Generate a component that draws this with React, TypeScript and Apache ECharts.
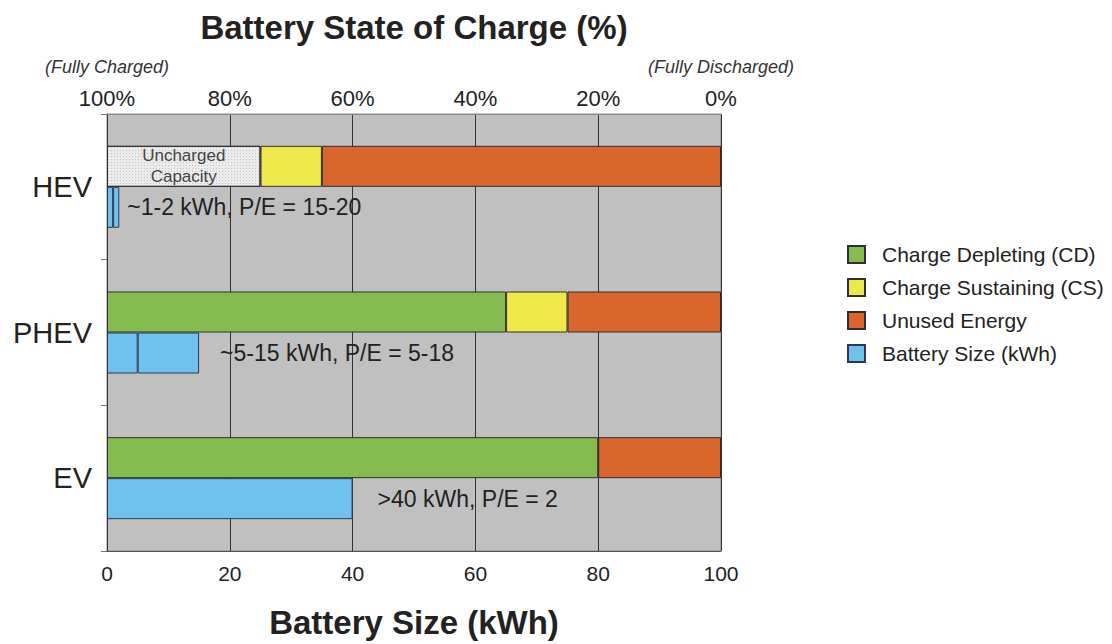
import React, { useEffect, useRef } from "react";
import * as echarts from "echarts";

const categories = ["HEV", "PHEV", "EV"];
// state-of-charge stack (% of width, read on the kWh axis)
const unchargedValues: (number | string)[] = [25, "-", "-"];
const cdValues: (number | string)[] = ["-", 65, 80];
const csValues: (number | string)[] = [10, 10, "-"];
const unusedValues: (number | string)[] = [65, 25, 20];
// battery size stack (kWh)
const sizeLowValues: (number | string)[] = [1, 5, 40];
const sizeRangeValues: (number | string)[] = [1, 10, "-"];
const sizeNotes = ["~1-2 kWh, P/E = 15-20", "~5-15 kWh, P/E = 5-18", ">40 kWh, P/E = 2"];
const noteDistance = [8, 21, 25];
const xTicks = [0, 20, 40, 60, 80, 100];

const FONT = "'Liberation Sans', Arial, Helvetica, sans-serif";
const BORDER = "#2f2f2f";

export default function App() {
  const ref = useRef<HTMLDivElement>(null);
  useEffect(() => {
    if (!ref.current) return;
    const chart = echarts.init(ref.current, undefined, { renderer: "svg" });
    const noteKind = (i: number) => (sizeRangeValues[i] === "-" ? "low" : "range");
    const sizeData = (vals: (number | string)[], kind: string) =>
      vals.map((v, i) =>
        noteKind(i) === kind && v !== "-"
          ? {
              value: v,
              label: {
                show: true,
                position: "right",
                distance: noteDistance[i],
                formatter: sizeNotes[i],
                color: "#222",
                fontSize: 23,
                fontFamily: FONT,
              },
            }
          : v
      );
    const barCommon = {
      type: "bar",
      barWidth: 41,
      barGap: "0%",
      xAxisIndex: 0,
      yAxisIndex: 0,
    };
    chart.setOption({
      animation: false,
      backgroundColor: "#ffffff",
      textStyle: { fontFamily: FONT },
      grid: {
        left: 107,
        top: 114,
        width: 614,
        height: 442,
        show: true,
        backgroundColor: "#c0c0c0",
        borderColor: "#8a8a8a",
        borderWidth: 1,
      },
      legend: {
        orient: "vertical",
        left: 842,
        top: 239,
        icon: "rect",
        itemWidth: 17,
        itemHeight: 17,
        itemGap: 12,
        data: [
          "Charge Depleting (CD)",
          "Charge Sustaining (CS)",
          "Unused Energy",
          "Battery Size (kWh)",
        ],
        textStyle: { fontSize: 21, color: "#222", fontFamily: FONT, padding: [0, 0, 0, 12] },
      },
      xAxis: [
        {
          type: "value",
          position: "bottom",
          min: 0,
          max: 100,
          interval: 20,
          name: "Battery Size (kWh)",
          nameLocation: "middle",
          nameGap: 55,
          nameTextStyle: { fontSize: 33, fontWeight: "bold", color: "#222", fontFamily: FONT },
          axisLine: { show: true, lineStyle: { color: "#555", width: 1 } },
          axisTick: { show: false },
          axisLabel: { fontSize: 21, color: "#222", margin: 12, fontFamily: FONT },
          splitLine: { show: true, lineStyle: { color: "#333", width: 1 } },
        },
        {
          type: "value",
          position: "top",
          min: 0,
          max: 100,
          interval: 20,
          name: "Battery State of Charge (%)",
          nameLocation: "middle",
          nameGap: 70,
          nameTextStyle: { fontSize: 33, fontWeight: "bold", color: "#222", fontFamily: FONT },
          axisLine: { show: true, lineStyle: { color: "#8a8a8a", width: 1 } },
          axisTick: { show: false },
          splitLine: { show: false },
          axisLabel: {
            margin: 4,
            color: "#222",
            fontSize: 22,
            fontFamily: FONT,
            formatter: (v: number) => {
              const pct = 100 - v + "%";
              if (v === xTicks[0]) return "{i|(Fully Charged)}\n{n|" + pct + "}";
              if (v === xTicks[xTicks.length - 1]) return "{i|(Fully Discharged)}\n{n|" + pct + "}";
              return "{n|" + pct + "}";
            },
            rich: {
              i: { fontSize: 18, fontStyle: "italic", color: "#333", lineHeight: 38, fontFamily: FONT },
              n: { fontSize: 22, color: "#222", lineHeight: 24, fontFamily: FONT },
            },
          },
        },
      ],
      yAxis: {
        type: "category",
        data: categories,
        inverse: true,
        axisLine: { show: true, lineStyle: { color: "#333", width: 1 } },
        axisTick: { show: true, length: 6, lineStyle: { color: "#777" } },
        axisLabel: { fontSize: 29, color: "#222", margin: 15, fontFamily: FONT },
        splitLine: { show: false },
      },
      series: [
        {
          ...barCommon,
          name: "Uncharged Capacity",
          stack: "soc",
          data: unchargedValues,
          itemStyle: {
            color: "#ebebeb",
            borderColor: BORDER,
            borderWidth: 1,
            decal: {
              symbol: "rect",
              symbolSize: 1,
              color: "rgba(150,150,150,0.45)",
              dashArrayX: [1, 2],
              dashArrayY: [1, 2],
            },
          },
          label: {
            show: true,
            position: "inside",
            formatter: "Uncharged\nCapacity",
            fontSize: 17,
            lineHeight: 21,
            color: "#444",
            fontFamily: FONT,
          },
        },
        {
          ...barCommon,
          name: "Charge Depleting (CD)",
          stack: "soc",
          data: cdValues,
          itemStyle: { color: "#86bb4f", borderColor: BORDER, borderWidth: 1 },
        },
        {
          ...barCommon,
          name: "Charge Sustaining (CS)",
          stack: "soc",
          data: csValues,
          itemStyle: { color: "#efe84b", borderColor: BORDER, borderWidth: 1 },
        },
        {
          ...barCommon,
          name: "Unused Energy",
          stack: "soc",
          data: unusedValues,
          itemStyle: { color: "#d9662d", borderColor: BORDER, borderWidth: 1 },
        },
        {
          ...barCommon,
          name: "Battery Size (kWh)",
          stack: "size",
          data: sizeData(sizeLowValues, "low"),
          itemStyle: { color: "#6fc1ee", borderColor: "#2a3a55", borderWidth: 1 },
        },
        {
          ...barCommon,
          name: "Battery Size (kWh)",
          stack: "size",
          data: sizeData(sizeRangeValues, "range"),
          itemStyle: { color: "#6fc1ee", borderColor: "#2a3a55", borderWidth: 1 },
        },
      ],
    });
    return () => chart.dispose();
  }, []);
  return (
    <div
      ref={ref}
      style={{ position: "absolute", left: 0, top: 0, width: 1112, height: 644, background: "#fff" }}
    />
  );
}
